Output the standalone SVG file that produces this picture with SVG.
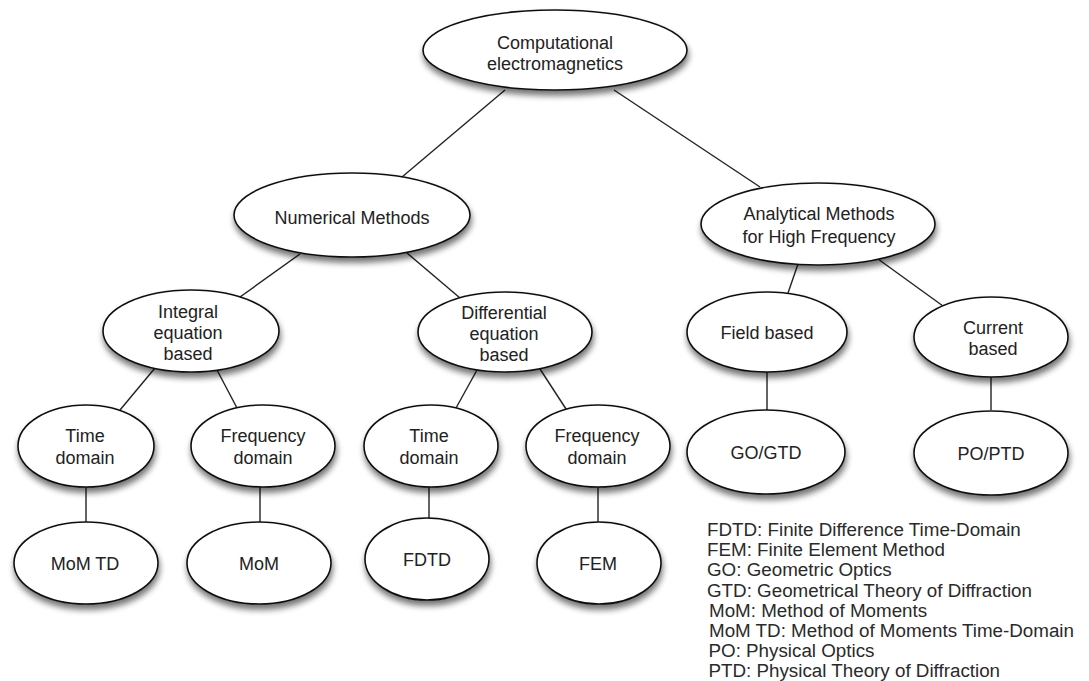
<svg xmlns="http://www.w3.org/2000/svg" width="1089" height="681" viewBox="0 0 1089 681">
<defs>
<filter id="sh" x="-20%" y="-20%" width="140%" height="150%">
<feGaussianBlur in="SourceAlpha" stdDeviation="3"/>
<feOffset dx="1" dy="5" result="b"/>
<feComponentTransfer><feFuncA type="linear" slope="0.55"/></feComponentTransfer>
<feMerge><feMergeNode/><feMergeNode in="SourceGraphic"/></feMerge>
</filter>
<style>
.n ellipse{fill:#fff;stroke:#111;stroke-width:1.6;filter:url(#sh)}
.n text{font-family:"Liberation Sans",Arial,sans-serif;font-size:18px;fill:#222;text-anchor:middle}
#connectors line{stroke:#222;stroke-width:1.4}
.lg{font-family:"Liberation Sans",Arial,sans-serif;font-size:18.8px;fill:#2a2a2a}
</style>
</defs>
<rect width="1089" height="681" fill="#fff"/>
<g id="connectors">
<line x1="505" y1="90" x2="402" y2="177"/>
<line x1="614" y1="90" x2="760" y2="187"/>
<line x1="300" y1="254" x2="240" y2="297"/>
<line x1="407" y1="253" x2="460" y2="298"/>
<line x1="155" y1="368" x2="120" y2="410"/>
<line x1="217" y1="370" x2="237" y2="408"/>
<line x1="477" y1="370" x2="456" y2="408"/>
<line x1="540" y1="369" x2="566" y2="409"/>
<line x1="86" y1="487" x2="86" y2="522"/>
<line x1="260" y1="487" x2="260" y2="522"/>
<line x1="429" y1="487" x2="429" y2="518"/>
<line x1="598" y1="487" x2="598" y2="522"/>
<line x1="798" y1="264" x2="788" y2="293"/>
<line x1="878" y1="259" x2="943" y2="306"/>
<line x1="767" y1="372" x2="767" y2="410"/>
<line x1="991" y1="377" x2="991" y2="410"/>
</g>
<g id="n-cem" class="n"><ellipse cx="555" cy="50" rx="132" ry="40"/><text x="555" y="48.5">Computational</text><text x="555" y="69.5">electromagnetics</text></g>
<g id="n-numerical" class="n"><ellipse cx="352" cy="215" rx="118" ry="42"/><text x="352" y="223.5">Numerical Methods</text></g>
<g id="n-analytical" class="n"><ellipse cx="818" cy="224" rx="117" ry="41"/><text x="819" y="219.5">Analytical Methods</text><text x="819" y="242.5">for High Frequency</text></g>
<g id="n-integral" class="n"><ellipse cx="191" cy="331" rx="88" ry="41"/><text x="188" y="317.5">Integral</text><text x="188" y="338.5">equation</text><text x="188" y="359.5">based</text></g>
<g id="n-differential" class="n"><ellipse cx="505" cy="332" rx="87" ry="40"/><text x="504" y="318.5">Differential</text><text x="504" y="339.5">equation</text><text x="504" y="360.5">based</text></g>
<g id="n-field" class="n"><ellipse cx="767" cy="332" rx="80" ry="40"/><text x="767" y="338.5">Field based</text></g>
<g id="n-current" class="n"><ellipse cx="991" cy="337" rx="77" ry="40"/><text x="993" y="333.5">Current</text><text x="993" y="354.5">based</text></g>
<g id="n-time1" class="n"><ellipse cx="86" cy="446" rx="68" ry="41"/><text x="85" y="441.5">Time</text><text x="85" y="463.5">domain</text></g>
<g id="n-freq1" class="n"><ellipse cx="263" cy="446" rx="72" ry="41"/><text x="263" y="441.5">Frequency</text><text x="263" y="463.5">domain</text></g>
<g id="n-time2" class="n"><ellipse cx="431" cy="446" rx="67" ry="41"/><text x="429" y="441.5">Time</text><text x="429" y="463.5">domain</text></g>
<g id="n-freq2" class="n"><ellipse cx="598" cy="446" rx="72" ry="41"/><text x="597" y="441.5">Frequency</text><text x="597" y="463.5">domain</text></g>
<g id="n-gogtd" class="n"><ellipse cx="766" cy="452" rx="79" ry="42"/><text x="766" y="458.5">GO/GTD</text></g>
<g id="n-poptd" class="n"><ellipse cx="991" cy="453" rx="77" ry="42"/><text x="991" y="459.5">PO/PTD</text></g>
<g id="n-momtd" class="n"><ellipse cx="86" cy="563" rx="72" ry="41"/><text x="85" y="569.5">MoM TD</text></g>
<g id="n-mom" class="n"><ellipse cx="259" cy="563" rx="72" ry="41"/><text x="259" y="569.5">MoM</text></g>
<g id="n-fdtd" class="n"><ellipse cx="427" cy="559" rx="62" ry="41"/><text x="427" y="566">FDTD</text></g>
<g id="n-fem" class="n"><ellipse cx="599" cy="563" rx="62" ry="41"/><text x="598" y="570">FEM</text></g>
<g id="legend">
<text class="lg" x="707" y="536">FDTD: Finite Difference Time-Domain</text>
<text class="lg" x="707" y="556.2">FEM: Finite Element Method</text>
<text class="lg" x="707" y="576.4">GO: Geometric Optics</text>
<text class="lg" x="707" y="596.6">GTD: Geometrical Theory of Diffraction</text>
<text class="lg" x="709" y="616.8">MoM: Method of Moments</text>
<text class="lg" x="709" y="637">MoM TD: Method of Moments Time-Domain</text>
<text class="lg" x="708.5" y="657.2">PO: Physical Optics</text>
<text class="lg" x="708.5" y="677.4">PTD: Physical Theory of Diffraction</text>
</g>
</svg>
